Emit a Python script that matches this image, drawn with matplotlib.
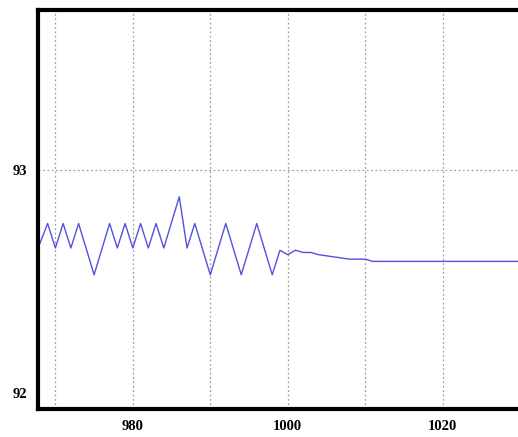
import matplotlib
matplotlib.use("Agg")
import matplotlib.pyplot as plt

# vertices of the trace
x = [968, 969, 970, 971, 972, 973, 975, 977, 978, 979, 980, 981, 982, 983, 984,
     986, 987, 988, 990, 992, 994, 996, 998, 999, 1000, 1001, 1002, 1003, 1004,
     1006, 1008, 1010, 1011, 1020, 1030]
y = [92.67, 92.76, 92.65, 92.76, 92.65, 92.76, 92.53, 92.76, 92.65, 92.76, 92.65,
     92.76, 92.65, 92.76, 92.65, 92.88, 92.65, 92.76, 92.53, 92.76, 92.53, 92.76,
     92.53, 92.64, 92.62, 92.64, 92.63, 92.63, 92.62, 92.61, 92.60, 92.60, 92.59,
     92.59, 92.59]

xticks = [970, 980, 990, 1000, 1010, 1020, 1030]
xlabels = ["", "980", "", "1000", "", "1020", ""]
yticks = [92, 93]

fig = plt.figure(figsize=(5.18, 4.37), dpi=100)
ax = fig.add_axes([0.074, 0.064, 0.93, 0.913])
ax.plot(x, y, color="#5252dc", lw=1.0)

ax.set_xlim(967.8, 1030)
ax.set_ylim(91.928, 93.717)
ax.set_xticks(xticks)
ax.set_xticklabels(xlabels)
ax.set_yticks(yticks)
ax.set_yticklabels([str(v) for v in yticks])

for lab in ax.get_xticklabels() + ax.get_yticklabels():
    lab.set_family("Liberation Serif")
    lab.set_fontweight("bold")
    lab.set_fontsize(10.5)

ax.tick_params(length=0, pad=8)
ax.grid(True, color="#a0a0a0", ls=(0, (1.5, 2)), lw=0.9)
ax.yaxis.get_gridlines()[0].set_visible(False)

for side in ["left", "top", "bottom"]:
    ax.spines[side].set_linewidth(3)
    ax.spines[side].set_color("black")
ax.spines["right"].set_visible(False)

fig.savefig("out.png", dpi=100)
